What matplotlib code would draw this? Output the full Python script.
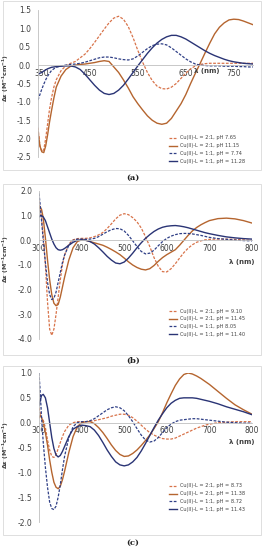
import matplotlib
matplotlib.use("Agg")
import matplotlib.pyplot as plt
from matplotlib.patches import Rectangle

# ---- panel (a) ----
x_a = [342, 346, 350, 354, 358, 362, 366, 370, 375, 380,
       390, 400, 410, 420, 430, 440, 450, 460, 470, 480, 490, 500, 510, 520, 530,
       540, 550, 560, 570, 580, 590, 600, 610, 620, 630, 640, 650, 660, 670, 680,
       690, 700, 710, 720, 730, 740, 750, 760, 770, 780, 790]
a_21_low = [-1.7, -2.2, -2.35, -2.3, -2.0, -1.6, -1.2, -0.9, -0.6, -0.4,
            -0.15, -0.02, 0.05, 0.1, 0.2, 0.3, 0.45, 0.62, 0.8, 0.98, 1.15, 1.28, 1.33, 1.25, 1.05,
            0.75, 0.4, 0.08, -0.2, -0.42, -0.57, -0.64, -0.65, -0.6, -0.5, -0.36, -0.22, -0.1, -0.02, 0.02,
            0.04, 0.05, 0.05, 0.05, 0.05, 0.05, 0.05, 0.05, 0.05, 0.05, 0.05]
a_21_high = [-1.8, -2.2, -2.36, -2.38, -2.2, -1.9, -1.55, -1.25, -0.9, -0.6,
             -0.3, -0.12, -0.03, 0.0, 0.02, 0.03, 0.05, 0.07, 0.1, 0.12, 0.1, -0.05, -0.2, -0.4, -0.62,
             -0.86, -1.05, -1.22, -1.38, -1.5, -1.58, -1.61, -1.58, -1.45, -1.25, -1.05, -0.8, -0.5, -0.22, 0.05,
             0.33, 0.6, 0.85, 1.03, 1.15, 1.23, 1.25, 1.24, 1.2, 1.15, 1.1]
a_11_low = [-0.95, -0.8, -0.65, -0.52, -0.4, -0.3, -0.22, -0.15, -0.1, -0.06,
            -0.02, 0.0, 0.02, 0.03, 0.05, 0.08, 0.12, 0.16, 0.2, 0.22, 0.22, 0.2, 0.17, 0.15, 0.14,
            0.17, 0.25, 0.35, 0.45, 0.53, 0.57, 0.58, 0.55, 0.47, 0.37, 0.27, 0.17, 0.09, 0.03, 0.0,
            -0.01, -0.02, -0.02, -0.02, -0.03, -0.03, -0.03, -0.04, -0.04, -0.05, -0.05]
a_11_high = [-0.25, -0.22, -0.2, -0.16, -0.13, -0.1, -0.08, -0.06, -0.05, -0.04,
             -0.03, -0.02, -0.02, -0.05, -0.12, -0.25, -0.4, -0.55, -0.68, -0.77, -0.8, -0.77, -0.68, -0.55, -0.38,
             -0.2, -0.02, 0.15, 0.32, 0.47, 0.6, 0.7, 0.77, 0.81, 0.81, 0.77, 0.71, 0.63, 0.55, 0.47,
             0.39, 0.32, 0.26, 0.21, 0.16, 0.12, 0.09, 0.07, 0.05, 0.04, 0.03]
labels_a = ["Cu(II)-L = 2:1, pH 7.65", "Cu(II)-L = 2:1, pH 11.15",
            "Cu(II)-L = 1:1, pH = 7.74", "Cu(II)-L = 1:1, pH = 11.28"]

# ---- panels (b) and (c) share the wavelength grid ----
x_bc = [300, 303, 306, 310, 315, 320, 325, 330, 335, 340, 345, 350, 355, 360,
        370, 380, 390, 400, 410, 420, 430, 440, 450, 460, 470, 480, 490, 500, 510,
        520, 530, 540, 550, 560, 570, 580, 590, 600, 610, 620, 630, 640, 650, 660,
        670, 680, 690, 700, 720, 740, 760, 780, 800]

b_21_low = [1.6, 1.2, 0.9, 0.2, -1.0, -2.5, -3.6, -3.85, -3.6, -3.0, -2.3, -1.6, -1.0, -0.6,
            -0.15, 0.02, 0.07, 0.08, 0.08, 0.1, 0.15, 0.22, 0.32, 0.48, 0.67, 0.87, 1.02, 1.08, 1.04,
            0.92, 0.75, 0.5, 0.15, -0.25, -0.7, -1.05, -1.27, -1.28, -1.15, -0.95, -0.72, -0.5, -0.32, -0.18,
            -0.08, -0.02, 0.02, 0.04, 0.05, 0.05, 0.04, 0.02, 0.0]
b_21_high = [1.3, 1.35, 1.25, 0.9, 0.1, -0.8, -1.6, -2.2, -2.55, -2.65, -2.6, -2.3, -1.9, -1.5,
             -0.8, -0.3, -0.05, 0.02, 0.0, -0.05, -0.1, -0.15, -0.2, -0.28, -0.37, -0.47, -0.58, -0.72, -0.87,
             -1.0, -1.1, -1.17, -1.2, -1.15, -1.02, -0.85, -0.7, -0.58, -0.48, -0.38, -0.2, 0.0, 0.2, 0.38,
             0.52, 0.63, 0.72, 0.8, 0.88, 0.9, 0.87, 0.8, 0.7]
b_11_low = [1.9, 1.4, 0.8, 0.0, -0.9, -1.7, -2.2, -2.4, -2.35, -2.1, -1.7, -1.3, -0.9, -0.6,
            -0.2, 0.0, 0.05, 0.05, 0.04, 0.05, 0.08, 0.15, 0.25, 0.35, 0.43, 0.48, 0.47, 0.38, 0.2,
            -0.02, -0.25, -0.45, -0.55, -0.52, -0.4, -0.22, -0.05, 0.08, 0.17, 0.23, 0.27, 0.28, 0.28, 0.26,
            0.23, 0.2, 0.16, 0.12, 0.07, 0.04, 0.01, -0.01, -0.02]
b_11_high = [0.95, 1.0, 1.0, 0.95, 0.8, 0.55, 0.3, 0.05, -0.15, -0.3, -0.38, -0.4, -0.38, -0.33,
             -0.2, -0.08, 0.0, 0.02, 0.0, -0.05, -0.15, -0.3, -0.47, -0.65, -0.8, -0.92, -0.95, -0.88, -0.72,
             -0.52, -0.3, -0.1, 0.08, 0.23, 0.36, 0.46, 0.53, 0.57, 0.59, 0.6, 0.58, 0.55, 0.51, 0.46,
             0.41, 0.36, 0.31, 0.27, 0.2, 0.14, 0.1, 0.07, 0.05]
labels_b = ["Cu(II)-L = 2:1, pH = 9.10", "Cu(II)-L = 2:1, pH = 11.45",
            "Cu(II)-L = 1:1, pH 8.05", "Cu(II)-L = 1:1, pH = 11.40"]

c_21_low = [0.3, 0.2, 0.1, 0.05, -0.1, -0.35, -0.55, -0.68, -0.7, -0.65, -0.52, -0.4, -0.28, -0.18,
            -0.05, 0.0, 0.02, 0.02, 0.02, 0.03, 0.04, 0.06, 0.08, 0.1, 0.13, 0.15, 0.17, 0.17, 0.15,
            0.1, 0.03, -0.05, -0.13, -0.2, -0.25, -0.29, -0.32, -0.33, -0.33, -0.31, -0.27, -0.23, -0.19, -0.15,
            -0.11, -0.08, -0.05, -0.03, 0.0, 0.01, 0.02, 0.02, 0.02]
c_21_high = [0.1, 0.15, 0.1, 0.0, -0.2, -0.45, -0.75, -1.0, -1.2, -1.3, -1.33, -1.28, -1.15, -0.98,
             -0.6, -0.28, -0.08, 0.0, 0.02, 0.02, -0.02, -0.1, -0.2, -0.32, -0.45, -0.56, -0.64, -0.68, -0.67,
             -0.62, -0.55, -0.46, -0.36, -0.25, -0.12, 0.02, 0.2, 0.4, 0.58, 0.75, 0.88, 0.97, 1.0, 0.98,
             0.94, 0.89, 0.83, 0.77, 0.63, 0.49, 0.36, 0.26, 0.17]
c_11_low = [1.0, 0.6, 0.1, -0.4, -0.9, -1.3, -1.6, -1.73, -1.75, -1.68, -1.5, -1.25, -0.95, -0.68,
            -0.3, -0.08, 0.0, 0.02, 0.02, 0.04, 0.08, 0.14, 0.2, 0.26, 0.3, 0.32, 0.3, 0.24, 0.14,
            0.02, -0.12, -0.25, -0.35, -0.39, -0.37, -0.3, -0.2, -0.1, -0.03, 0.02, 0.05, 0.06, 0.07, 0.08,
            0.08, 0.07, 0.06, 0.05, 0.03, 0.01, 0.0, -0.01, -0.01]
c_11_high = [0.35, 0.45, 0.55, 0.57, 0.5, 0.3, 0.0, -0.3, -0.52, -0.65, -0.69, -0.66, -0.58, -0.48,
             -0.28, -0.13, -0.08, -0.05, -0.06, -0.08, -0.15, -0.26, -0.4, -0.55, -0.68, -0.79, -0.85, -0.87, -0.85,
             -0.79, -0.7, -0.57, -0.42, -0.26, -0.1, 0.05, 0.18, 0.3, 0.39, 0.45, 0.49, 0.5, 0.5, 0.5,
             0.49, 0.47, 0.45, 0.43, 0.38, 0.32, 0.27, 0.22, 0.16]
labels_c = ["Cu(II)-L = 2:1, pH = 8.73", "Cu(II)-L = 2:1, pH = 11.38",
            "Cu(II)-L = 1:1, pH = 8.72", "Cu(II)-L = 1:1, pH = 11.43"]

col_or = "#D8734A"
col_br = "#B5652F"
col_nd = "#2F3F86"
col_ns = "#2A3475"
grey = "#BFBFBF"
txt = "#404040"

W, H = 266, 550
fig = plt.figure(figsize=(W / 100, H / 100), dpi=100)


def px(x, y):
    return x / W, 1 - y / H


def panel(rect, x, series, labels, xlim, ylim, yticks, yfmt, xticks,
          ylab_y, xlab_xy, leg_y, box, tag, tag_y):
    ax = fig.add_axes(rect)
    styles = [(col_or, (0, (2.2, 1.2)), 0.9), (col_br, "-", 1.0),
              (col_nd, (0, (2.2, 1.2)), 0.9), (col_ns, "-", 1.0)]
    for ys, lab, (c, ls, lw) in zip(series, labels, styles):
        ax.plot(x, ys, color=c, linestyle=ls, lw=lw, label=lab)
    ax.set_xlim(*xlim)
    ax.set_ylim(*ylim)
    ax.set_yticks(yticks)
    ax.set_yticklabels([yfmt.format(v) for v in yticks])
    ax.set_xticks(xticks)
    ax.set_xticklabels([str(v) for v in xticks])
    for s in ["top", "right"]:
        ax.spines[s].set_visible(False)
    ax.spines["bottom"].set_position(("data", 0))
    ax.spines["bottom"].set_color(grey)
    ax.spines["left"].set_color(grey)
    ax.spines["bottom"].set_linewidth(0.6)
    ax.spines["left"].set_linewidth(0.6)
    ax.tick_params(axis="x", length=0, pad=2.5, labelsize=5.5, labelcolor=txt)
    ax.tick_params(axis="y", length=0, pad=5, labelsize=5.5, labelcolor=txt)
    ax.patch.set_alpha(0)
    # axis titles
    fig.text(*px(6, ylab_y), r"$\mathbf{\Delta\varepsilon}$ (M$^{\mathbf{-1}}$cm$^{\mathbf{-1}}$)",
             rotation=90, ha="center", va="center", fontsize=4.5,
             fontweight="bold", color=txt)
    fig.text(*px(*xlab_xy), "λ (nm)", ha="center", va="center", fontsize=5,
             fontweight="bold", color=txt)
    fig.legend(*ax.get_legend_handles_labels(), loc="upper left",
               bbox_to_anchor=px(166, leg_y), frameon=False, fontsize=3.6,
               handlelength=1.6, handletextpad=0.6, labelspacing=0.55,
               borderpad=0, labelcolor=txt)
    x0, y0, x1, y1 = box
    fig.patches.append(Rectangle(px(x0, y1), (x1 - x0) / W, (y1 - y0) / H,
                                 transform=fig.transFigure, fill=False,
                                 edgecolor="#D9D9D9", lw=0.6))
    fig.text(*px(133, tag_y), tag, ha="center", va="center", fontsize=6,
             fontweight="bold", family="DejaVu Serif", color="#222222")
    return ax


panel([38 / W, 1 - 157 / H, 215 / W, 147 / H], x_a,
      [a_21_low, a_21_high, a_11_low, a_11_high], labels_a,
      (342, 790), (-2.5, 1.5), [-2.5, -2.0, -1.5, -1.0, -0.5, 0.0, 0.5, 1.0, 1.5],
      "{:.1f}", [350, 450, 550, 650, 750], 78, (207, 71), 133,
      (3, 1, 261, 170), "(a)", 178)

panel([39 / W, 1 - 339 / H, 213 / W, 148 / H], x_bc,
      [b_21_low, b_21_high, b_11_low, b_11_high], labels_b,
      (300, 800), (-4.0, 2.0), [-4.0, -3.0, -2.0, -1.0, 0.0, 1.0, 2.0],
      "{:.1f}", [300, 400, 500, 600, 700, 800], 259, (242, 262), 306,
      (3, 184, 261, 355), "(b)", 361)

panel([39 / W, 1 - 522 / H, 213 / W, 149 / H], x_bc,
      [c_21_low, c_21_high, c_11_low, c_11_high], labels_c,
      (300, 800), (-2.0, 1.0), [-2.0, -1.5, -1.0, -0.5, 0.0, 0.5, 1.0],
      "{:.1f}", [300, 400, 500, 600, 700, 800], 445, (242, 442), 481,
      (3, 366, 261, 535), "(c)", 543)

fig.savefig("out.png", dpi=100)
